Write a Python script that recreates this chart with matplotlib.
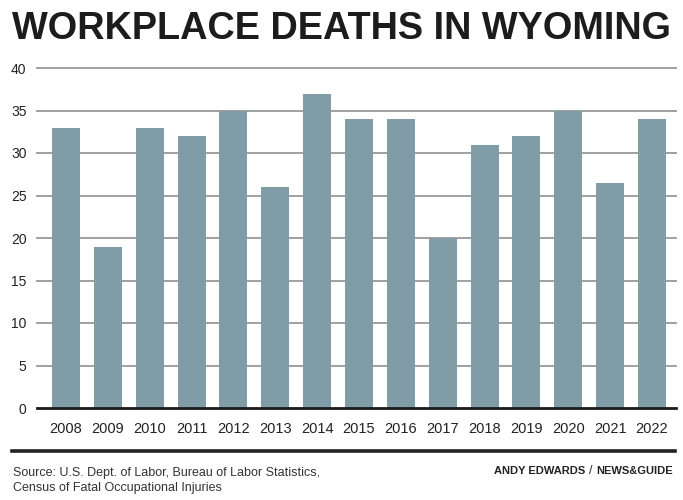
import matplotlib
matplotlib.use("Agg")
import matplotlib.pyplot as plt
from matplotlib import font_manager as fm

# ---- data ----
years = ["2008", "2009", "2010", "2011", "2012", "2013", "2014", "2015",
         "2016", "2017", "2018", "2019", "2020", "2021", "2022"]
deaths = [33, 19, 33, 32, 35, 26, 37, 34, 34, 20, 31, 32, 35, 26.5, 34]
y_ticks = [0, 5, 10, 15, 20, 25, 30, 35, 40]
title = "WORKPLACE DEATHS IN WYOMING"
source_lines = ["Source: U.S. Dept. of Labor, Bureau of Labor Statistics,",
                "Census of Fatal Occupational Injuries"]
credit_bold1 = "ANDY EDWARDS"
credit_sep = "/"
credit_bold2 = "NEWS&GUIDE"


def has_font(name):
    try:
        fm.findfont(fm.FontProperties(family=name), fallback_to_default=False)
        return True
    except Exception:
        return False

NARROW = "Liberation Sans Narrow" if has_font("Liberation Sans Narrow") else "Liberation Sans"
BASE = "Liberation Sans"

BAR = "#809ca6"
GRID = "#999999"
W, H = 683, 500
fig = plt.figure(figsize=(W / 100, H / 100), dpi=100)
fig.patch.set_facecolor("white")

def fx(px):
    return px / W

def fy(py):
    return 1 - py / H

ax = fig.add_axes([fx(37), fy(408), fx(676) - fx(37), fy(68) - fy(408)])
x = list(range(len(years)))
ax.bar(x, deaths, width=0.669, color=BAR, zorder=2)
ax.set_xlim(-0.693, len(years) - 1 + 0.573)
ax.set_ylim(0, 40)
for t in y_ticks[1:]:
    ax.axhline(t, color=GRID, lw=1.3, zorder=1, clip_on=False)
ax.axhline(0, color="#1a1a1a", lw=2.0, zorder=3, clip_on=False)
for s in ax.spines.values():
    s.set_visible(False)
ax.set_yticks(y_ticks)
ax.set_yticklabels([str(t) for t in y_ticks], fontsize=10, family=BASE, color="#222222")
ax.set_xticks(x)
ax.set_xticklabels(years, fontsize=10.5, family=BASE, color="#222222")
ax.tick_params(axis="y", length=0, pad=7.5)
ax.tick_params(axis="x", length=0, pad=10)

renderer = fig.canvas.get_renderer()

def fit(txt, base_size, target_w):
    w = txt.get_window_extent(renderer=renderer).width
    txt.set_fontsize(base_size * target_w / w)

# title, fitted to width
t = fig.text(fx(12), fy(39), title, family=NARROW, fontweight="bold",
             fontsize=30, color="#1c1c1c", ha="left", va="baseline")
fit(t, 30, 670 - 12)

# bottom rule
fig.add_artist(plt.Line2D([fx(12), fx(675)], [fy(451), fy(451)], color="#222222",
                          lw=2.6, transform=fig.transFigure))

# source, fitted to width
s1 = fig.text(fx(13), fy(476), source_lines[0], family=NARROW, fontsize=10,
              color="#333333", ha="left", va="baseline")
w_s1 = s1.get_window_extent(renderer=renderer).width
size_src = 10 * (320 - 13) / w_s1
s1.set_fontsize(size_src)
fig.text(fx(13), fy(491), source_lines[1], family=NARROW, fontsize=size_src,
         color="#333333", ha="left", va="baseline")

# credit (right aligned, built right to left)
size_c = 8
right = 673
gap = 4
c2 = fig.text(fx(right), fy(474), credit_bold2, family=NARROW, fontweight="bold",
              fontsize=size_c, color="#222222", ha="right", va="baseline")
w2 = c2.get_window_extent(renderer=renderer).width
c1 = fig.text(fx(right - w2 - gap), fy(474), credit_sep, family=NARROW,
              fontsize=size_c + 1, color="#222222", ha="right", va="baseline")
w1 = c1.get_window_extent(renderer=renderer).width
fig.text(fx(right - w2 - gap - w1 - gap), fy(474), credit_bold1, family=NARROW,
         fontweight="bold", fontsize=size_c, color="#222222", ha="right", va="baseline")

fig.savefig("out.png", dpi=100, facecolor="white")
